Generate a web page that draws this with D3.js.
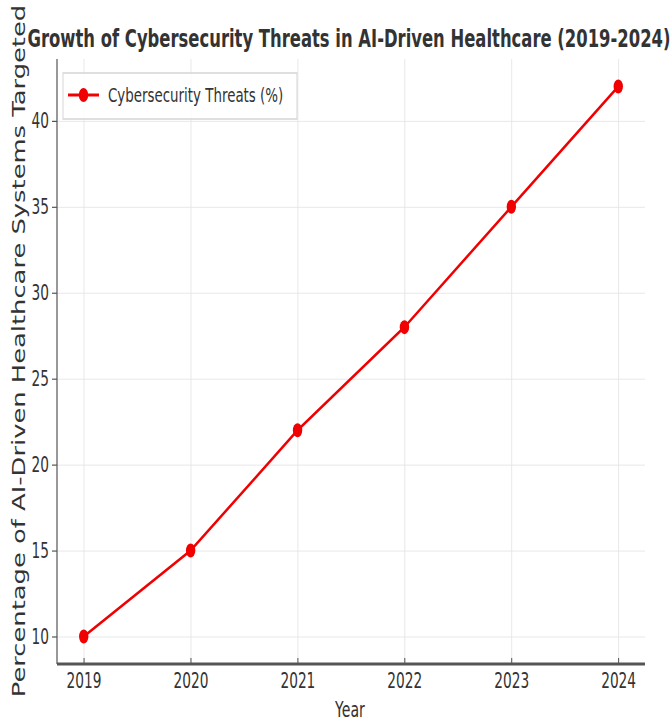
<!DOCTYPE html>
<html>
<head>
<meta charset="utf-8">
<script src="https://cdn.jsdelivr.net/npm/d3@7"></script>
<style>
  body { margin: 0; background: #fff; }
  text { font-family: "DejaVu Sans", sans-serif; fill: #333; }
  .grid line { stroke: #e3e3e3; stroke-width: 1; }
  .grid path { display: none; }
  .axis path { display: none; }
  .axis line { stroke: #555; }
  .axis text { font-size: 20.5px; fill: #333; }
</style>
</head>
<body>
<svg id="chart" width="672" height="722"></svg>
<script>
// data
var years = [2019, 2020, 2021, 2022, 2023, 2024];
var threats = [10, 15, 22, 28, 35, 42];
var yTicks = [10, 15, 20, 25, 30, 35, 40];

// the picture is squeezed sideways, so draw wide and scale x back
var sx = 0.67;
function X(px) { return px / sx; }

var svg = d3.select("#chart");
var g = svg.append("g").attr("transform", "scale(" + sx + ",1)");

var plotL = X(57), plotR = X(645), plotT = 59, plotB = 664;

var x = d3.scaleLinear().domain([2018.75, 2024.25]).range([plotL, plotR]);
var y = d3.scaleLinear().domain([8.4, 43.6]).range([plotB, plotT]);

// grid
g.append("g").attr("class", "grid")
  .attr("transform", "translate(0," + plotB + ")")
  .call(d3.axisBottom(x).tickValues(years).tickSize(-(plotB - plotT)).tickFormat(""));
g.append("g").attr("class", "grid")
  .attr("transform", "translate(" + plotL + ",0)")
  .call(d3.axisLeft(y).tickValues(yTicks).tickSize(-(plotR - plotL)).tickFormat(""));

// axes
var xAxis = g.append("g").attr("class", "axis")
  .attr("transform", "translate(0," + plotB + ")")
  .call(d3.axisBottom(x).tickValues(years).tickFormat(d3.format("d"))
    .tickSizeInner(-6).tickSizeOuter(0).tickPadding(9));
xAxis.selectAll("line").attr("stroke-width", 1.5);

var yAxis = g.append("g").attr("class", "axis")
  .attr("transform", "translate(" + plotL + ",0)")
  .call(d3.axisLeft(y).tickValues(yTicks).tickFormat(d3.format("d"))
    .tickSizeInner(X(5)).tickSizeOuter(0).tickPadding(X(3)));
yAxis.selectAll("line").attr("stroke-width", 1.2);

// spines
g.append("line")
  .attr("x1", plotL).attr("x2", plotL).attr("y1", plotT).attr("y2", plotB)
  .attr("stroke", "#555").attr("stroke-width", 1.8);
g.append("line")
  .attr("x1", plotL).attr("x2", plotR).attr("y1", plotB).attr("y2", plotB)
  .attr("stroke", "#555").attr("stroke-width", 3);

// line + markers
var line = d3.line()
  .x(function(d, i) { return x(years[i]); })
  .y(function(d) { return y(d); });

g.append("path")
  .datum(threats)
  .attr("d", line)
  .attr("fill", "none")
  .attr("stroke", "#f00000")
  .attr("stroke-width", 3);

g.selectAll(".dot")
  .data(threats)
  .enter().append("circle")
  .attr("class", "dot")
  .attr("cx", function(d, i) { return x(years[i]); })
  .attr("cy", function(d) { return y(d); })
  .attr("r", 7)
  .attr("fill", "#f00000");

// legend
var lg = g.append("g");
lg.append("rect")
  .attr("x", X(63)).attr("y", 73)
  .attr("width", X(297) - X(63)).attr("height", 46)
  .attr("fill", "#fff").attr("fill-opacity", 0.8)
  .attr("stroke", "#d5d5d5").attr("stroke-width", 1.5);
lg.append("line")
  .attr("x1", X(68)).attr("x2", X(99)).attr("y1", 95).attr("y2", 95)
  .attr("stroke", "#f00000").attr("stroke-width", 3);
lg.append("circle")
  .attr("cx", X(83.5)).attr("cy", 95).attr("r", 7)
  .attr("fill", "#f00000");
lg.append("text")
  .attr("x", X(108)).attr("y", 102)
  .style("font-size", "20px")
  .text("Cybersecurity Threats (%)");

// title + labels
g.append("text")
  .attr("x", X(349)).attr("y", 47)
  .attr("text-anchor", "middle")
  .style("font-size", "24.5px").style("font-weight", "bold")
  .text("Growth of Cybersecurity Threats in AI-Driven Healthcare (2019-2024)");

g.append("text")
  .attr("x", X(350)).attr("y", 717)
  .attr("text-anchor", "middle")
  .style("font-size", "21px")
  .text("Year");

g.append("text")
  .attr("transform", "translate(" + X(25) + ",351) rotate(-90)")
  .attr("text-anchor", "middle")
  .style("font-size", "25.8px")
  .text("Percentage of AI-Driven Healthcare Systems Targeted");
</script>
</body>
</html>
